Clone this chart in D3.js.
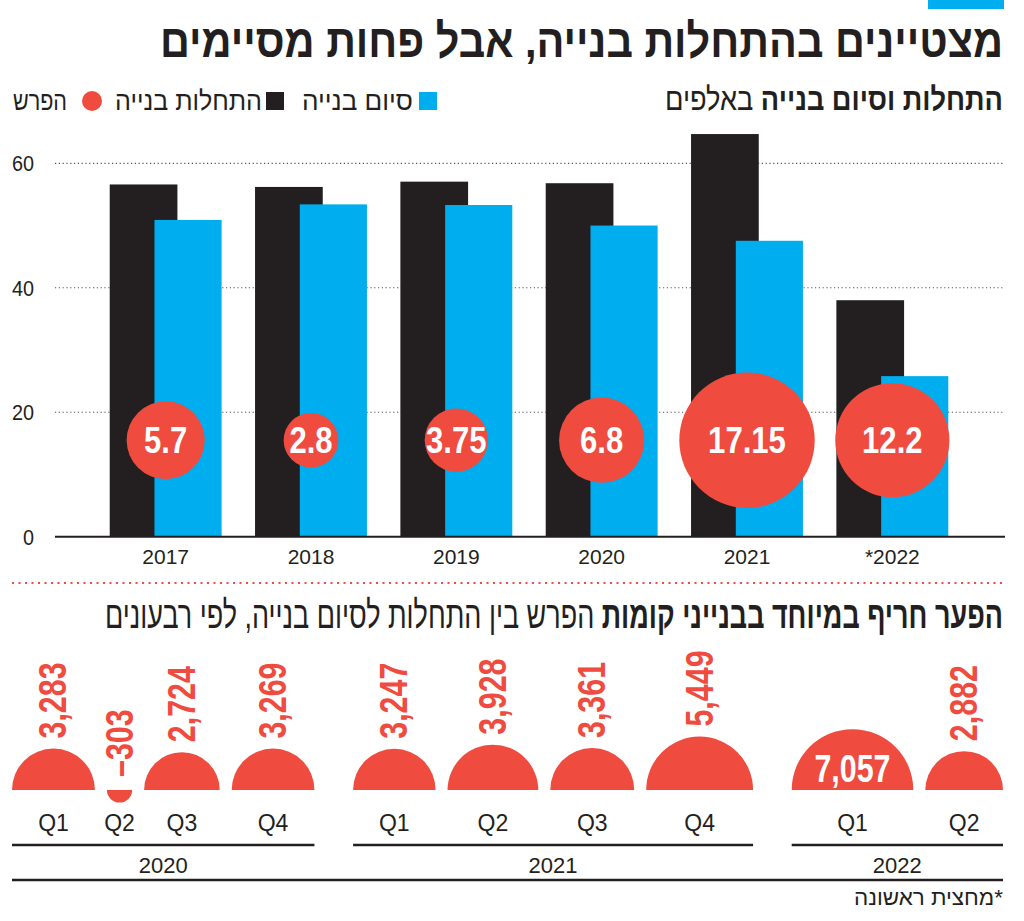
<!DOCTYPE html>
<html><head><meta charset="utf-8">
<script src="https://cdn.jsdelivr.net/npm/d3@7"></script>
<style>body{margin:0;background:#fff}</style>
</head><body><svg id="c" width="1024" height="921"></svg>
<script>
// ---- data ----
const years = ["2017","2018","2019","2020","2021","*2022"];
const starts = [56.6, 56.2, 57.05, 56.8, 64.7, 38.0];
const completions = [50.9, 53.4, 53.3, 50.0, 47.55, 25.8];
const gaps = [5.7, 2.8, 3.75, 6.8, 17.15, 12.2];
const gapLabels = ["5.7","2.8","3.75","6.8","17.15","12.2"];
const yTicks = [0, 20, 40, 60];

const qYears = ["2020","2021","2022"];
const quarterNames = [["Q1","Q2","Q3","Q4"],["Q1","Q2","Q3","Q4"],["Q1","Q2"]];
const quarterValues = [[3283,-303,2724,3269],[3247,3928,3361,5449],[7057,2882]];
const quarterLabels = [["3,283","\u2013303","2,724","3,269"],["3,247","3,928","3,361","5,449"],["7,057","2,882"]];

const title = "מצטיינים בהתחלות בנייה, אבל פחות מסיימים";
const sub1Bold = "התחלות וסיום בנייה";
const sub1Reg = " באלפים";
const legendItems = ["סיום בנייה","התחלות בנייה","הפרש"];
const sub2Bold = "הפער חריף במיוחד בבנייני קומות";
const sub2Reg = " הפרש בין התחלות לסיום בנייה, לפי רבעונים";
const footnote = "*מחצית ראשונה";

// ---- style ----
const BLACK = "#231f20", BLUE = "#00aeef", RED = "#ef4b3f";
const FONT = "'Liberation Sans','Arimo','DejaVu Sans',sans-serif";

const svg = d3.select("#c").style("font-family", FONT);

function condense(sel, f) {
  sel.each(function () {
    const L = this.getComputedTextLength();
    d3.select(this).attr("textLength", L * f).attr("lengthAdjust", "spacingAndGlyphs");
  });
  return sel;
}

// top accent
svg.append("rect").attr("x", 928).attr("y", 0).attr("width", 76).attr("height", 9).attr("fill", BLUE);

// title
svg.append("text").attr("x", 1003).attr("y", 57)
  .attr("direction","rtl").attr("text-anchor","start")
  .attr("font-size", 47).attr("font-weight","bold").attr("fill", BLACK)
  .attr("textLength", 843).attr("lengthAdjust","spacingAndGlyphs")
  .text(title);

// subtitle 1
const s1 = svg.append("text").attr("x", 1003).attr("y", 110)
  .attr("direction","rtl").attr("text-anchor","start")
  .attr("font-size", 32).attr("fill", BLACK)
  .attr("textLength", 338).attr("lengthAdjust","spacingAndGlyphs");
s1.append("tspan").attr("font-weight","bold").text(sub1Bold);
s1.append("tspan").text(sub1Reg);

// legend
const legColors = [BLUE, BLACK, RED];
const legRight = [413, 262, 67];
const legWidth = [111, 147, 54];
const legMarkX = [428, 275, 92];
legendItems.forEach((t, i) => {
  if (i < 2) {
    svg.append("rect").attr("x", legMarkX[i]-9).attr("y", 92).attr("width", 18).attr("height", 18).attr("fill", legColors[i]);
  } else {
    svg.append("circle").attr("cx", legMarkX[i]).attr("cy", 101).attr("r", 10).attr("fill", legColors[i]);
  }
  svg.append("text").attr("x", legRight[i]).attr("y", 110)
    .attr("direction","rtl").attr("text-anchor","start")
    .attr("font-size", 27).attr("fill", BLACK)
    .attr("textLength", legWidth[i]).attr("lengthAdjust","spacingAndGlyphs").text(t);
});

// ---- top chart ----
const y = d3.scaleLinear().domain([0, 60]).range([536.7, 163.3]);
const x = d3.scaleBand().domain(years).range([93, 965]).paddingInner(0.23).paddingOuter(0.115);
const bw = x.bandwidth();
const rTop = d3.scaleSqrt().domain([0, 17.15]).range([0, 67.7]);

// gridlines
svg.append("g").selectAll("line").data(yTicks.filter(d => d > 0)).join("line")
  .attr("x1", 55).attr("x2", 1005).attr("y1", d => y(d)).attr("y2", d => y(d))
  .attr("stroke", "#555").attr("stroke-width", 1.2).attr("stroke-dasharray", "1.2,2.6");

// y labels
svg.append("g").selectAll("text").data(yTicks).join("text")
  .attr("x", 34).attr("y", d => y(d) + 8).attr("text-anchor","end")
  .attr("font-size", 22).attr("fill", BLACK).text(d => d)
  .call(condense, 0.9);

// bars
svg.append("g").selectAll("rect").data(years).join("rect")
  .attr("x", d => x(d)).attr("width", bw * 0.605)
  .attr("y", (d, i) => y(starts[i])).attr("height", (d, i) => y(0) - y(starts[i]))
  .attr("fill", BLACK);
svg.append("g").selectAll("rect").data(years).join("rect")
  .attr("x", d => x(d) + bw * 0.4).attr("width", bw * 0.6)
  .attr("y", (d, i) => y(completions[i])).attr("height", (d, i) => y(0) - y(completions[i]))
  .attr("fill", BLUE);

// axis line
svg.append("line").attr("x1", 55).attr("x2", 1005).attr("y1", y(0)).attr("y2", y(0))
  .attr("stroke", BLACK).attr("stroke-width", 2);

// year labels
svg.append("g").selectAll("text").data(years).join("text")
  .attr("x", d => x(d) + bw / 2).attr("y", 564).attr("text-anchor","middle")
  .attr("font-size", 21).attr("fill", BLACK).text(d => d);

// gap circles
const cy = y(15.5);
svg.append("g").selectAll("circle").data(years).join("circle")
  .attr("cx", d => x(d) + bw * 0.5).attr("cy", cy)
  .attr("r", (d, i) => rTop(gaps[i])).attr("fill", RED);
svg.append("g").selectAll("text").data(years).join("text")
  .attr("x", d => x(d) + bw * 0.5).attr("y", cy + 13).attr("text-anchor","middle")
  .attr("font-size", 37).attr("font-weight","bold").attr("fill", "#fff")
  .text((d, i) => gapLabels[i])
  .call(condense, 0.84);

// divider
svg.append("line").attr("x1", 12).attr("x2", 1003).attr("y1", 583).attr("y2", 583)
  .attr("stroke", RED).attr("stroke-width", 2).attr("stroke-dasharray", "2,4.5");

// subtitle 2
const s2 = svg.append("text").attr("x", 1003).attr("y", 628)
  .attr("direction","rtl").attr("text-anchor","start")
  .attr("font-size", 38).attr("fill", BLACK)
  .attr("textLength", 898).attr("lengthAdjust","spacingAndGlyphs");
s2.append("tspan").attr("font-weight","bold").text(sub2Bold);
s2.append("tspan").text(sub2Reg);

// ---- bottom chart: semicircles ----
const baseY = 790;
const rq = d3.scaleSqrt().domain([0, 7057]).range([0, 60.8]);
const left = 12, right = 1003, innerGap = 12;
let sumD = 0, nInner = 0;
quarterValues.forEach(g => { g.forEach(v => sumD += 2 * rq(Math.abs(v))); nInner += g.length - 1; });
const groupGap = (right - left - sumD - innerGap * nInner) / (quarterValues.length - 1);

const items = [];
const groups = [];
let cur = left;
quarterValues.forEach((g, gi) => {
  const gStart = cur;
  g.forEach((v, qi) => {
    const r = rq(Math.abs(v));
    items.push({ v, r, cx: cur + r, q: quarterNames[gi][qi], label: quarterLabels[gi][qi] });
    cur += 2 * r + (qi < g.length - 1 ? innerGap : 0);
  });
  groups.push({ year: qYears[gi], x0: gStart, x1: cur });
  cur += groupGap;
});

const arc = d3.arc().innerRadius(0);
const gq = svg.append("g");
items.forEach(it => {
  const pos = it.v >= 0;
  gq.append("path")
    .attr("transform", `translate(${it.cx},${baseY})`)
    .attr("d", arc({ outerRadius: it.r, startAngle: pos ? -Math.PI/2 : Math.PI/2, endAngle: pos ? Math.PI/2 : 3*Math.PI/2 }))
    .attr("fill", RED);
  if (it.r > 55) {
    gq.append("text").attr("x", it.cx).attr("y", baseY - 8).attr("text-anchor","middle")
      .attr("font-size", 38).attr("font-weight","bold").attr("fill", "#fff").text(it.label)
      .call(condense, 0.8);
  } else {
    const bottom = pos ? baseY - it.r - 10 : baseY - 13;
    gq.append("text").attr("transform", `translate(${it.cx + 13},${bottom}) rotate(-90)`)
      .attr("text-anchor","start")
      .attr("font-size", 39).attr("font-weight","bold").attr("fill", RED).text(it.label)
      .call(condense, 0.78);
  }
  gq.append("text").attr("x", it.cx).attr("y", 831).attr("text-anchor","middle")
    .attr("font-size", 23).attr("fill", BLACK).text(it.q);
});

groups.forEach(g => {
  svg.append("line").attr("x1", g.x0).attr("x2", g.x1).attr("y1", 845).attr("y2", 845)
    .attr("stroke", BLACK).attr("stroke-width", 2.5);
  svg.append("text").attr("x", (g.x0 + g.x1) / 2).attr("y", 873).attr("text-anchor","middle")
    .attr("font-size", 22).attr("fill", BLACK).text(g.year);
});
svg.append("line").attr("x1", 12).attr("x2", 1003).attr("y1", 880).attr("y2", 880)
  .attr("stroke", BLACK).attr("stroke-width", 2.5);

svg.append("text").attr("x", 1003).attr("y", 905)
  .attr("direction","rtl").attr("text-anchor","start")
  .attr("font-size", 22).attr("fill", BLACK)
  .attr("textLength", 149).attr("lengthAdjust","spacingAndGlyphs").text(footnote);
</script>
</body></html>
